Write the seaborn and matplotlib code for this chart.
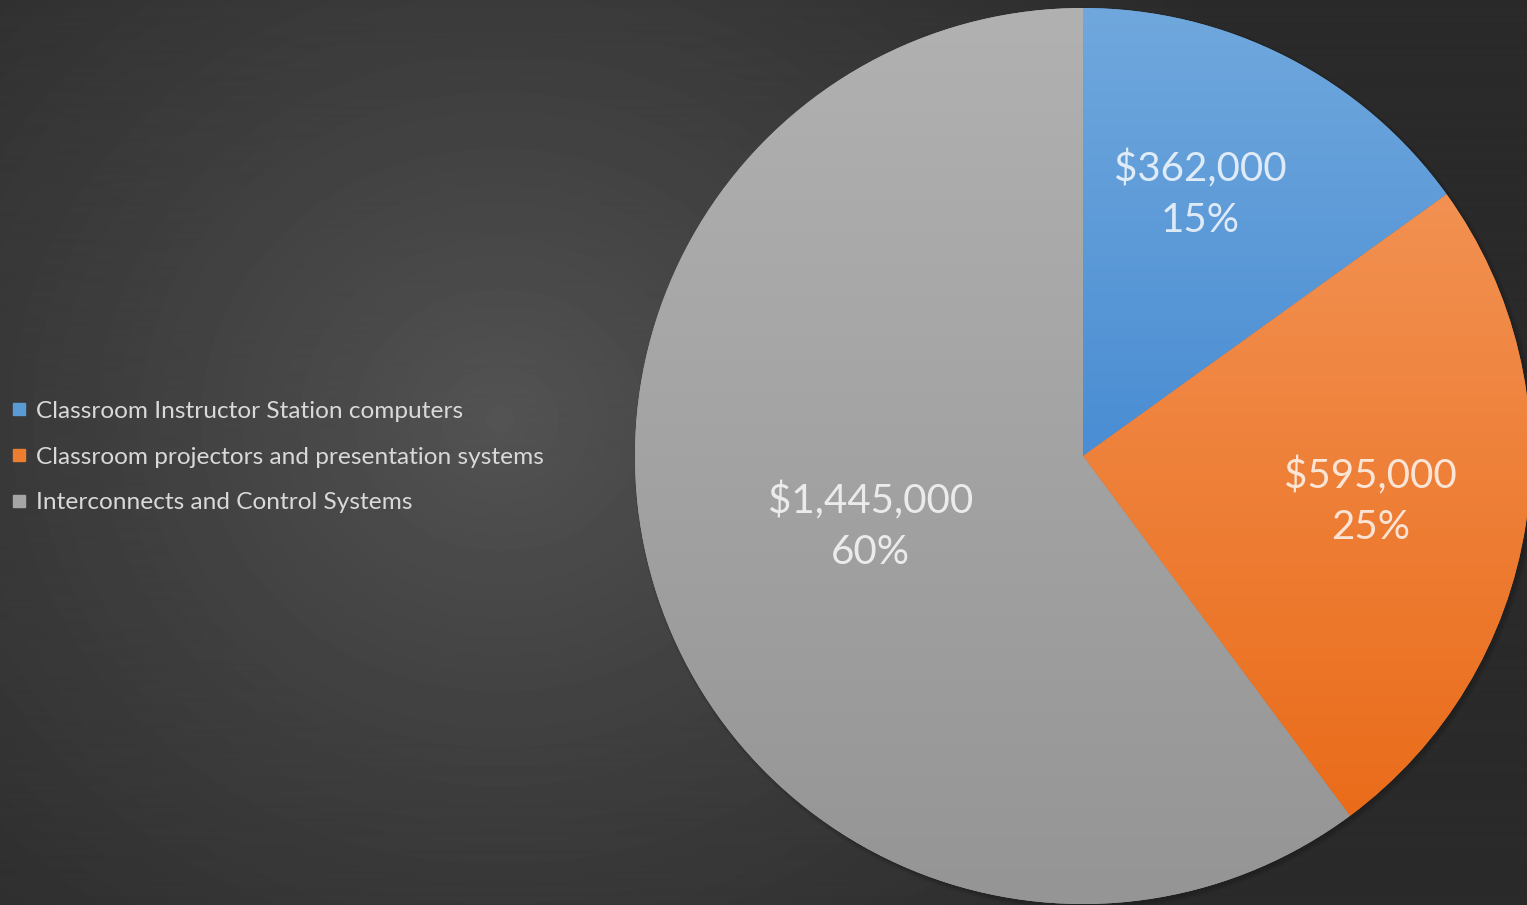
import numpy as np
import matplotlib
matplotlib.use("Agg")
import matplotlib.pyplot as plt
import seaborn as sns
from matplotlib.colors import LinearSegmentedColormap
from matplotlib.lines import Line2D
from matplotlib.patches import Circle

# ---- data ----
categories = ["Classroom Instructor Station computers",
              "Classroom projectors and presentation systems",
              "Interconnects and Control Systems"]
values = [362000, 595000, 1445000]
value_labels = ["$362,000", "$595,000", "$1,445,000"]
pct_labels = ["15%", "25%", "60%"]

# ---- style ----
base_colors = ["#5b9bd5", "#ed7d31", "#a5a5a5"]
top_colors = ["#70a8dd", "#f29152", "#b1b1b1"]
bottom_colors = ["#4a8dd3", "#ea6c1a", "#959595"]
label_dist = [0.64, 0.65, 0.50]
label_ang_off = [3.0, 0.0, 0.0]

sns.set_theme(style="dark")
plt.rcParams['font.family'] = ['Lato', 'DejaVu Sans']

W, H = 1527, 905
fig = plt.figure(figsize=(W / 100, H / 100), dpi=100)

# background radial gradient
bg = fig.add_axes([0, 0, 1, 1])
yy, xx = np.mgrid[0:H, 0:W]
d = np.hypot(xx - 500, (yy - 420) * 1.1)
t = np.clip(d / 850, 0, 1)
b = 84 - 42 * t ** 0.85
bg.imshow(b, cmap='gray', vmin=0, vmax=255, extent=[0, W, H, 0], aspect='auto')
bg.set_axis_off()

# pie
cx, cy, r = 1083, 456, 448
ax = fig.add_axes([(cx - r) / W, (H - cy - r) / H, 2 * r / W, 2 * r / H])
palette = sns.color_palette(base_colors)
wedges, _ = ax.pie(values, colors=palette, startangle=90, counterclock=False,
                   radius=1, wedgeprops=dict(linewidth=0))

# soft shadow (down-right)
for k in range(4):
    sh = Circle((0.006, -0.006), 0.999 + 0.003 * k, color='black', alpha=0.05,
                zorder=0, clip_on=False, transform=ax.transData, linewidth=0)
    ax.add_patch(sh)
for w in wedges:
    w.set_zorder(1)

# gradients per wedge
grad = np.linspace(0, 1, 256).reshape(-1, 1)
for w, tc, bc in zip(wedges, top_colors, bottom_colors):
    path = w.get_patch_transform().transform_path(w.get_path())
    ext = path.get_extents()
    cmap = LinearSegmentedColormap.from_list("g", [tc, bc])
    im = ax.imshow(grad, cmap=cmap, extent=[ext.x0, ext.x1, ext.y0, ext.y1],
                   origin='upper', aspect='auto', zorder=2)
    im.set_clip_path(w)

# labels
for w, vl, pl, dist, off in zip(wedges, value_labels, pct_labels, label_dist, label_ang_off):
    ang = np.deg2rad((w.theta1 + w.theta2) / 2 + off)
    x, y = dist * np.cos(ang), dist * np.sin(ang)
    ax.text(x, y, f"{vl}\n{pl}", ha='center', va='center', fontsize=29,
            color='white', alpha=0.8, linespacing=1.45, zorder=5)

ax.set_xlim(-1, 1)
ax.set_ylim(-1, 1)
ax.set_aspect('auto')
ax.set_axis_off()

# legend
handles = [Line2D([], [], marker='s', linestyle='', color=c, markersize=9)
           for c in base_colors]
fig.legend(handles=handles, labels=categories, loc='center left',
           bbox_to_anchor=(9.5 / W, (H - 457) / H), frameon=False,
           fontsize=17.6, labelcolor='#d9d9d9', handlelength=0.8,
           handletextpad=0.3, labelspacing=1.0, borderpad=0, borderaxespad=0)

fig.savefig("out.png", dpi=100)
